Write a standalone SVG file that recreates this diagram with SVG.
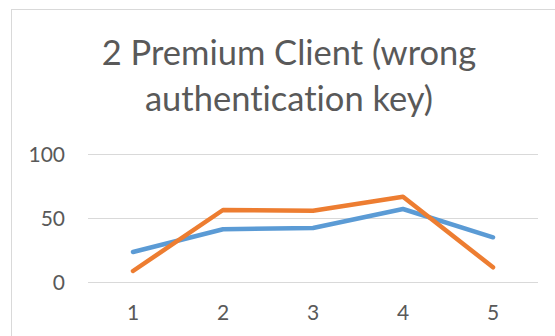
<svg xmlns="http://www.w3.org/2000/svg" width="555" height="336" viewBox="0 0 555 336">
<style>
  .frame { fill: #ffffff; stroke: #D9D9D9; stroke-width: 1; }
  .grid { stroke: #D9D9D9; stroke-width: 1; fill: none; }
  .title { font-family: Lato, "Liberation Sans", sans-serif; font-size: 34.5px; fill: #595959; text-anchor: middle; font-variant-ligatures: none; }
  .ax { font-family: Lato, "Liberation Sans", sans-serif; font-size: 21px; fill: #595959; }
  .yl { text-anchor: end; }
  .xl { text-anchor: middle; }
  .series { fill: none; stroke-width: 4.5; stroke-linecap: round; stroke-linejoin: round; }
  .s1 { stroke: #5B9BD5; }
  .s2 { stroke: #ED7D31; }
</style>
<rect width="555" height="336" fill="#ffffff"/>
<rect class="frame" x="11.5" y="9.5" width="560" height="340"/>
<g id="title">
  <text class="title" x="289" y="65">2 Premium Client (wrong</text>
  <text class="title" x="289" y="111">authentication key)</text>
</g>
<g id="gridlines">
  <line class="grid" x1="88" y1="154.5" x2="538" y2="154.5"/>
  <line class="grid" x1="88" y1="218.5" x2="538" y2="218.5"/>
  <line class="grid" x1="88" y1="282.5" x2="538" y2="282.5"/>
</g>
<g id="y-axis">
  <text class="ax yl" x="65" y="162">100</text>
  <text class="ax yl" x="65" y="226">50</text>
  <text class="ax yl" x="65" y="290">0</text>
</g>
<g id="x-axis">
  <text class="ax xl" x="133" y="320">1</text>
  <text class="ax xl" x="223" y="320">2</text>
  <text class="ax xl" x="313" y="320">3</text>
  <text class="ax xl" x="403" y="320">4</text>
  <text class="ax xl" x="493" y="320">5</text>
</g>
<g id="series">
  <polyline id="series1" class="series s1" points="133,252 223,229.3 313,228 403,209 493,237.3"/>
  <polyline id="series2" class="series s2" points="133,271 223,210 313,210.7 403,196.7 493,267.3"/>
</g>
</svg>
